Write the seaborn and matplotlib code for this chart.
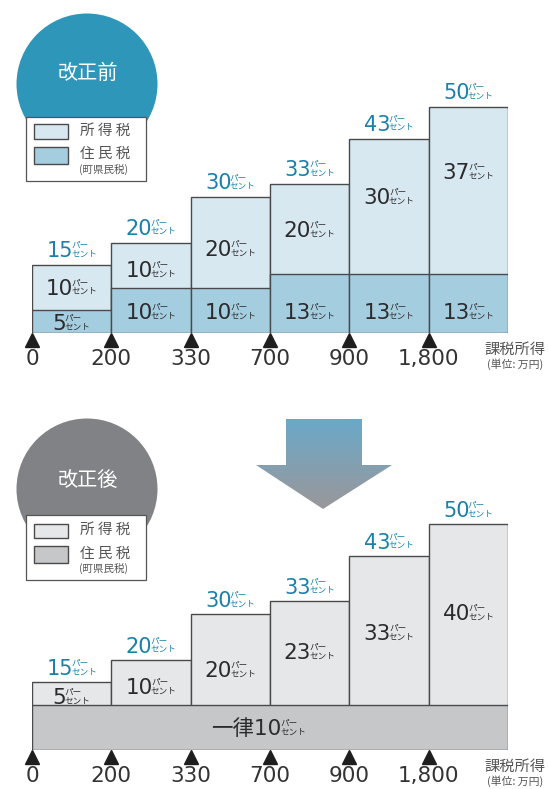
import numpy as np
import pandas as pd
import matplotlib
matplotlib.use("Agg")
import matplotlib.pyplot as plt
import seaborn as sns
from matplotlib.patches import Circle, Rectangle, Polygon
from matplotlib.transforms import offset_copy
from matplotlib.colors import LinearSegmentedColormap

# ---------------- data ----------------
brackets = ["0-200", "200-330", "330-700", "700-900", "900-1800", "1800-"]
edge_labels = ["0", "200", "330", "700", "900", "1,800"]
before_resident = [5, 10, 10, 13, 13, 13]
before_income = [10, 10, 20, 20, 30, 37]
after_resident_flat = 10
after_income = [5, 10, 20, 23, 33, 40]

# ---------------- layout / style ----------------
W, H = 548, 789
SCALE = 4.52          # px per percentage point
YMAX = 56
top_inc_label_y = [10.0, 13.9, 18.6, 22.8, 30.1, 35.6]
top_res_label_y = [2.2, 4.6, 4.6, 4.6, 4.6, 4.6]
bot_inc_label_y = [11.7, 13.9, 17.7, 21.7, 25.9, 30.3]

EDGE = "#4a4a4a"
BLUE_TXT = "#1a80a9"
DARK_TXT = "#2b2b2b"
GRAY_TXT = "#555555"

sns.set_theme(style="white")
plt.rcParams['font.family'] = ['DejaVu Sans', 'Noto Sans CJK JP']
JP = ['Noto Sans CJK JP', 'DejaVu Sans']

fig = plt.figure(figsize=(W / 100, H / 100), dpi=100)
renderer = fig.canvas.get_renderer()


def make_axes(x0, x1, base_y):
    return fig.add_axes([x0 / W, (H - base_y) / H, (x1 - x0) / W, YMAX * SCALE / H])


def pct_label(ax, xc, y, num, size, color, small=6.2):
    t = ax.text(xc, y, num, ha='center', va='center', fontsize=size, color=color)
    s1 = ax.text(xc, y, 'パー', ha='left', va='center', fontsize=small, color=color, family=JP)
    s2 = ax.text(xc, y, 'セント', ha='left', va='center', fontsize=small, color=color, family=JP)
    w1 = t.get_window_extent(renderer).width
    ws = max(s1.get_window_extent(renderer).width, s2.get_window_extent(renderer).width)
    gap = -1.5
    total = w1 + gap + ws
    t.set_transform(offset_copy(ax.transData, fig=fig, x=-total / 2 + w1 / 2, y=-1, units='dots'))
    s1.set_transform(offset_copy(ax.transData, fig=fig, x=-total / 2 + w1 + gap, y=4.5, units='dots'))
    s2.set_transform(offset_copy(ax.transData, fig=fig, x=-total / 2 + w1 + gap, y=-4, units='dots'))


def style_axes(ax):
    ax.set_xlim(-0.5, 5.5)
    ax.set_ylim(0, YMAX)
    ax.set_xticks(np.arange(6) - 0.5)
    ax.set_xticklabels(edge_labels, fontsize=15.5, color="#333333")
    ax.tick_params(axis='x', length=0, pad=11.5)
    ax.set_yticks([])
    ax.set_xlabel('')
    ax.set_ylabel('')
    ax.patch.set_alpha(0)
    sns.despine(ax=ax, left=True, bottom=True)
    ax.plot(np.arange(6) - 0.5, [-1.55] * 6, '^', color='#1e1e1e', markersize=9.5,
            clip_on=False, zorder=5)


# ---------------- top panel (before) ----------------
before_total = [a + b for a, b in zip(before_resident, before_income)]
df_b = pd.DataFrame({"bracket": brackets, "total": before_total, "resident": before_resident})
ax1 = make_axes(32, 508, 333)
sns.barplot(data=df_b, x="bracket", y="total", color="#d7e8f1", saturation=1, width=1,
            edgecolor=EDGE, linewidth=1.0, ax=ax1)
sns.barplot(data=df_b, x="bracket", y="resident", color="#a5cde0", saturation=1, width=1,
            edgecolor=EDGE, linewidth=1.0, ax=ax1)
style_axes(ax1)
for i in range(6):
    pct_label(ax1, i, before_total[i] + 3.3, str(before_total[i]), 15, BLUE_TXT)
    pct_label(ax1, i, top_inc_label_y[i], str(before_income[i]), 15.5, DARK_TXT)
    pct_label(ax1, i, top_res_label_y[i], str(before_resident[i]), 15.5, DARK_TXT)

# ---------------- bottom panel (after) ----------------
after_total = [after_resident_flat + v for v in after_income]
df_a = pd.DataFrame({"bracket": brackets, "total": after_total})
ax2 = make_axes(32, 508, 750)
sns.barplot(data=df_a, x="bracket", y="total", color="#e6e7e9", saturation=1, width=1,
            edgecolor=EDGE, linewidth=1.0, ax=ax2)
ax2.bar(2.5, after_resident_flat, width=6, color="#c6c7c9", edgecolor=EDGE, linewidth=1.0)
style_axes(ax2)
for i in range(6):
    pct_label(ax2, i, after_total[i] + 3.1, str(after_total[i]), 15, BLUE_TXT)
    pct_label(ax2, i, bot_inc_label_y[i], str(after_income[i]), 15.5, DARK_TXT)
pct_label(ax2, 2.36, 4.9, "一律" + str(after_resident_flat), 15.5, DARK_TXT)

# ---------------- overlay: badges, legends, arrow ----------------
ov = fig.add_axes([0, 0, 1, 1], zorder=10)
ov.patch.set_alpha(0)


def badge(cy, text, text_y, color):
    ov.add_patch(Circle((87, cy), 70.5, facecolor=color, edgecolor='none', zorder=1))
    ov.text(88, text_y, text, ha='center', va='center', fontsize=14.5, color='white',
            family=JP, fontweight='normal', zorder=3)


def legend_box(y0, y1, sw1, sw2, ty1, ty2, ty3, c_inc, c_res):
    ov.add_patch(Rectangle((26, y0), 120, y1 - y0, facecolor='white', edgecolor='#555555',
                           linewidth=0.9, zorder=2))
    ov.add_patch(Rectangle((34, sw1[0]), 34, sw1[1] - sw1[0], facecolor=c_inc, edgecolor=EDGE,
                           linewidth=1.0, zorder=3))
    ov.add_patch(Rectangle((34, sw2[0]), 34, sw2[1] - sw2[0], facecolor=c_res, edgecolor=EDGE,
                           linewidth=1.0, zorder=3))
    ov.text(80, ty1, "所 得 税", ha='left', va='center', fontsize=10.5, color=GRAY_TXT,
            family=JP, zorder=3)
    ov.text(80, ty2, "住 民 税", ha='left', va='center', fontsize=10.5, color=GRAY_TXT,
            family=JP, zorder=3)
    ov.text(79, ty3, "(町県民税)", ha='left', va='center', fontsize=7.6, color=GRAY_TXT,
            family=JP, zorder=3)


badge(84, "改正前", 73, "#2e96b9")
legend_box(117, 181, (124, 139), (147, 164), 131, 154, 170, "#d7e8f1", "#a5cde0")
badge(489, "改正後", 480, "#818285")
legend_box(515, 580, (524, 538), (546, 563), 530, 554, 569, "#e6e7e9", "#c6c7c9")

# units text
for ty in (349, 766):
    ov.text(515, ty, "課税所得", ha='center', va='center', fontsize=11, color=GRAY_TXT, family=JP)
    ov.text(515, ty + 15, "(単位: 万円)", ha='center', va='center', fontsize=7.8,
            color=GRAY_TXT, family=JP)

# gradient arrow
grad = np.linspace(0, 1, 256).reshape(-1, 1)
cmap = LinearSegmentedColormap.from_list('arrow', ['#6aa9c8', '#9b979a'])
im = ov.imshow(grad, cmap=cmap, extent=(256, 392, 509, 419), aspect='auto', zorder=1)
arrow = Polygon([(286, 419), (362, 419), (362, 465), (392, 465), (323, 509), (256, 465),
                 (286, 465)], closed=True, facecolor='none', edgecolor='none',
                transform=ov.transData)
ov.add_patch(arrow)
im.set_clip_path(arrow)

ov.set_xlim(0, W)
ov.set_ylim(H, 0)
ov.axis('off')

fig.savefig("out.png", dpi=100)
